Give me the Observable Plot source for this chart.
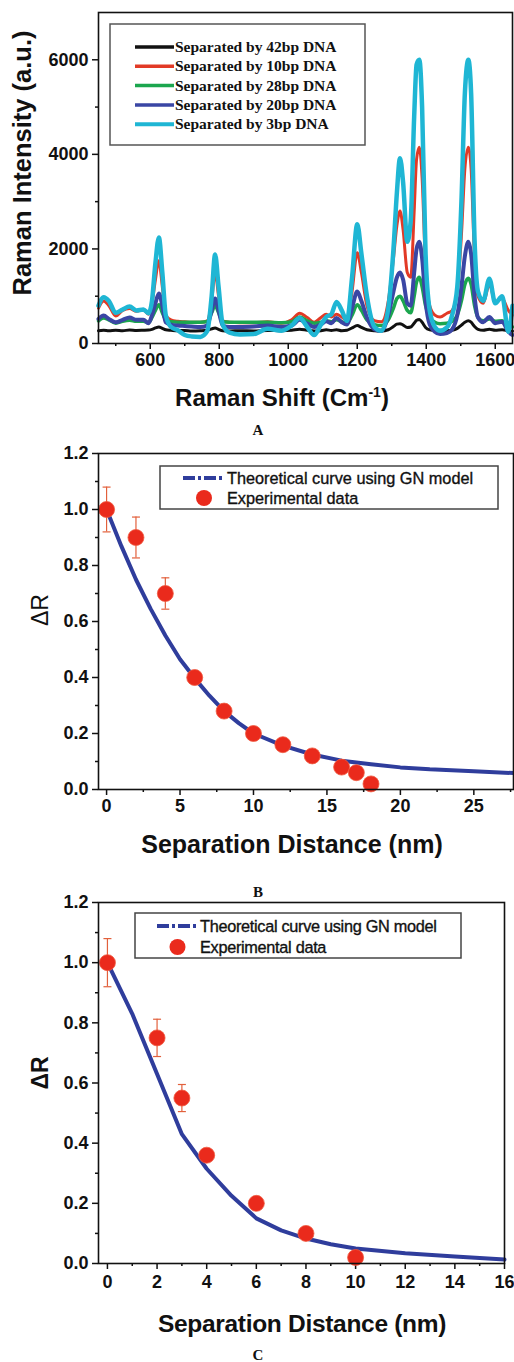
<!DOCTYPE html>
<html><head><meta charset="utf-8">
<script src="https://cdn.jsdelivr.net/npm/d3@7"></script>
<script src="https://cdn.jsdelivr.net/npm/@observablehq/plot@0.6"></script>
<style>
body{margin:0;background:#fff;}
#wrap{position:relative;width:514px;height:1362px;overflow:hidden;background:#fff;}
#wrap > svg{position:absolute;left:0;}
</style></head><body><div id="wrap"></div>
<script>
// ---------------- DATA: panel A (Raman spectra) ----------------
const wavenumbers = [450,465,480,500,520,540,560,580,595,605,615,625,635,645,660,680,700,720,745,765,778,788,798,810,830,860,900,940,980,1010,1033,1055,1075,1095,1110,1125,1140,1155,1170,1185,1200,1212,1228,1250,1270,1290,1305,1315,1324,1333,1345,1355,1365,1372,1380,1388,1398,1410,1425,1440,1460,1475,1490,1502,1512,1522,1530,1540,1550,1565,1583,1600,1620,1638,1650];
const sep42 = [270,280,270,280,270,285,275,280,285,300,330,350,320,290,280,270,275,265,270,280,310,330,300,270,265,270,265,275,270,280,300,280,265,270,290,275,290,270,280,330,380,340,290,270,265,290,360,410,420,390,340,350,430,490,510,450,340,290,275,280,270,280,320,390,450,480,450,360,300,280,300,280,290,270,260];
const sep10 = [750,900,800,580,700,740,680,720,620,850,1350,1750,1200,600,500,470,460,450,450,480,900,1500,1000,480,450,440,440,460,430,500,640,550,450,550,620,560,620,560,500,1100,1920,1500,800,480,460,900,1800,2500,2800,2400,1500,1400,2800,3900,4150,3500,1600,800,600,560,640,700,1100,2300,3700,4150,3700,1800,1000,850,1250,880,950,700,600];
const sep28 = [480,540,500,430,470,490,470,470,440,550,700,820,650,500,460,450,450,450,450,460,650,800,650,460,450,450,450,450,440,460,560,480,430,450,480,460,500,460,430,600,820,700,500,400,380,500,750,950,1000,900,700,650,1000,1300,1400,1200,800,550,450,420,430,470,600,900,1250,1380,1250,800,550,480,520,470,480,400,350];
const sep20 = [520,590,520,450,500,550,500,500,430,600,850,1060,800,450,400,380,370,360,350,380,700,950,700,380,350,350,360,380,350,380,500,420,350,400,470,430,540,450,400,750,1100,900,550,300,270,600,1100,1400,1500,1350,850,800,1500,2000,2150,1800,900,400,250,200,220,300,600,1200,1850,2150,1900,1000,550,450,560,430,460,250,180];
const sep3  = [800,980,900,650,720,780,700,720,640,900,1700,2240,1500,600,350,280,180,150,140,260,1000,1880,1200,400,230,190,200,310,270,380,540,350,180,400,560,620,880,700,480,1400,2520,1900,1000,350,270,750,2000,3200,3920,3400,2150,2600,4800,5900,6000,5000,1900,700,350,270,340,600,1200,3000,5300,6000,5300,2200,1100,900,1370,850,1000,250,800];
const seriesNames = ["Separated by 42bp DNA","Separated by 10bp DNA","Separated by 28bp DNA","Separated by 20bp DNA","Separated by 3bp DNA"];
const ticksA_x = [600,800,1000,1200,1400,1600];
const minorA_x = [500,700,900,1100,1300,1500];
const ticksA_y = [0,2000,4000,6000];
const minorA_y = [1000,3000,5000];

// ---------------- DATA: panel B ----------------
const distB = [0,2,4,6,8,10,12,14,16,17,18];
const expB  = [1.0,0.9,0.7,0.4,0.28,0.2,0.16,0.12,0.08,0.06,0.02];
const errB  = [0.08,0.073,0.056,0,0,0,0,0,0,0,0];
const theoDistB = [0,1,2,3,4,5,6,7,8,9,10,12,14,16,18,20,22,25,28];
const theoB     = [1.0,0.87,0.75,0.645,0.55,0.465,0.397,0.335,0.28,0.237,0.2,0.157,0.125,0.103,0.09,0.079,0.072,0.065,0.058];
const ticksB_x = [0,5,10,15,20,25];
const minorB_x = [2.5,7.5,12.5,17.5,22.5,27.5];

// ---------------- DATA: panel C ----------------
const distC = [0,2,3,4,6,8,10];
const expC  = [1.0,0.75,0.55,0.36,0.2,0.1,0.02];
const errC  = [0.08,0.062,0.045,0,0,0,0];
const theoDistC = [0,1,2,3,4,5,6,7,8,9,10,12,14,16];
const theoC     = [1.0,0.83,0.63,0.43,0.315,0.225,0.15,0.11,0.083,0.064,0.05,0.034,0.023,0.013];
const ticksC_x = [0,2,4,6,8,10,12,14,16];
const minorC_x = [1,3,5,7,9,11,13,15];

const ticksR_y = [0,0.2,0.4,0.6,0.8,1.0,1.2];
const minorR_y = [0.1,0.3,0.5,0.7,0.9,1.1];
const legendBC = ["Theoretical curve using GN model","Experimental data"];

// ---------------- STYLE ----------------
const seriesColors = ["#111111","#e23a26","#1ba64e","#3a46a4","#1fb6d4"];
const seriesWidths = [3,3,3.5,4,4.5];
const curveColor = "#2f3d9c";
const dotColor = "#ea2a1c";
const errColor = "#e2603c";
const sans = "'Liberation Sans', Arial, Helvetica, sans-serif";
const serif = "'Liberation Serif', 'Times New Roman', serif";

const wrap = document.getElementById("wrap");

function axes(xt, xm, yt, ym, yfmt, xpad) {
  return [
    Plot.axisX({ticks: xm, tickSize: 3, tickFormat: () => "", strokeWidth: 1.5, label: null}),
    Plot.axisX({ticks: xt, tickSize: 6, tickPadding: xpad, strokeWidth: 1.5, fontSize: 18, fontWeight: "bold", label: null, tickFormat: d => String(d)}),
    Plot.axisY({ticks: ym, tickSize: 3, tickFormat: () => "", strokeWidth: 1.5, label: null}),
    Plot.axisY({ticks: yt, tickSize: 6, tickPadding: 4, strokeWidth: 1.5, fontSize: 18, fontWeight: "bold", label: null, tickFormat: yfmt})
  ];
}
function place(svg, top) { svg.style.position = "absolute"; svg.style.top = top + "px"; svg.style.left = "0px"; wrap.appendChild(svg); }
const baseStyle = {fontFamily: sans, fontSize: "18px", fontWeight: "bold", color: "#111", background: "transparent", overflow: "visible"};

// ---------------- PANEL A ----------------
const spectra = [sep42, sep10, sep28, sep20, sep3];
const tableA = spectra.flatMap((vals, i) => wavenumbers.map((w, j) => ({w, v: vals[j], s: seriesNames[i]})));
const plotA = Plot.plot({
  width: 514, height: 380, marginTop: 12, marginBottom: 37, marginLeft: 98, marginRight: 2,
  x: {domain: [450, 1650]}, y: {domain: [0, 7000]}, style: baseStyle,
  marks: [
    ...axes(ticksA_x, minorA_x, ticksA_y, minorA_y, d => String(d), 4),
    ...seriesNames.map((name, i) => Plot.line(tableA.filter(d => d.s === name), {x: "w", y: "v", stroke: seriesColors[i], strokeWidth: seriesWidths[i], curve: "monotone-x", strokeLinejoin: "round"})),
    Plot.frame({stroke: "#111", strokeWidth: 1.6})
  ]
});
place(plotA, 0);

// ---------------- PANELS B & C ----------------
const capSymbol = {draw(ctx) { ctx.moveTo(-4, 0); ctx.lineTo(4, 0); }};
function ratioPanel(dist, exp, err, tdist, theo, xdom, xt, xm, opts) {
  const pts = dist.map((x, i) => ({x, y: exp[i], e: err[i]}));
  const errPts = pts.filter(d => d.e > 0);
  const curve = tdist.map((x, i) => ({x, y: theo[i]}));
  return Plot.plot({
    width: 514, height: opts.height, marginTop: opts.mt, marginBottom: 37, marginLeft: 98, marginRight: opts.mr,
    x: {domain: xdom}, y: {domain: [0, 1.2]}, style: baseStyle,
    marks: [
      ...axes(xt, xm, ticksR_y, minorR_y, d => d.toFixed(1), opts.xpad),
      Plot.line(curve, {x: "x", y: "y", stroke: curveColor, strokeWidth: 4}),
      Plot.ruleX(errPts, {x: "x", y1: d => d.y - d.e, y2: d => d.y + d.e, stroke: errColor, strokeWidth: 1.2}),
      Plot.dot(errPts, {x: "x", y: d => d.y + d.e, symbol: capSymbol, stroke: errColor, strokeWidth: 1.2, fill: "none"}),
      Plot.dot(errPts, {x: "x", y: d => d.y - d.e, symbol: capSymbol, stroke: errColor, strokeWidth: 1.2, fill: "none"}),
      Plot.dot(pts, {x: "x", y: "y", r: 8, fill: dotColor, stroke: "#f05a40", strokeWidth: 0.8}),
      Plot.frame({stroke: "#111", strokeWidth: 1.6})
    ]
  });
}
place(ratioPanel(distB, expB, errB, theoDistB, theoB, [-0.55, 27.7], ticksB_x, minorB_x, {height: 386, mt: 13, mr: 1, xpad: 4}), 440);
place(ratioPanel(distC, expC, errC, theoDistC, theoC, [-0.36, 16], ticksC_x, minorC_x, {height: 410, mt: 12, mr: 10, xpad: 6}), 890);

// ---------------- TEXT / LEGEND OVERLAY ----------------
const NS = "http://www.w3.org/2000/svg";
const ov = document.createElementNS(NS, "svg");
ov.setAttribute("width", 514); ov.setAttribute("height", 1362);
ov.style.position = "absolute"; ov.style.top = "0"; ov.style.left = "0";
wrap.appendChild(ov);
function el(tag, attrs, text) {
  const e = document.createElementNS(NS, tag);
  for (const k in attrs) e.setAttribute(k, attrs[k]);
  if (text != null) e.textContent = text;
  ov.appendChild(e); return e;
}
// Axis titles
el("text", {x: 31, y: 163, transform: "rotate(-90 31 163)", "text-anchor": "middle", "font-family": sans, "font-weight": "bold", "font-size": 25.5, fill: "#111"}, "Raman Intensity (a.u.)");
const tA = el("text", {x: 282, y: 406, "text-anchor": "middle", "font-family": sans, "font-weight": "bold", "font-size": 24, fill: "#111"});
tA.innerHTML = 'Raman Shift (Cm<tspan dy="-9" font-size="14">-1</tspan><tspan dy="9">)</tspan>';
el("text", {x: 258, y: 435, "text-anchor": "middle", "font-family": serif, "font-weight": "bold", "font-size": 15, fill: "#111"}, "A");

el("text", {x: 48, y: 610, transform: "rotate(-90 48 610)", "text-anchor": "middle", "font-family": sans, "font-size": 23, fill: "#111"}, "ΔR");
el("text", {x: 292, y: 853, "text-anchor": "middle", "font-family": sans, "font-weight": "bold", "font-size": 25, fill: "#111"}, "Separation Distance (nm)");
el("text", {x: 258, y: 897, "text-anchor": "middle", "font-family": serif, "font-weight": "bold", "font-size": 15, fill: "#111"}, "B");

el("text", {x: 48, y: 1073, transform: "rotate(-90 48 1073)", "text-anchor": "middle", "font-family": sans, "font-weight": "bold", "font-size": 23, fill: "#111"}, "ΔR");
el("text", {x: 302, y: 1332, "text-anchor": "middle", "font-family": sans, "font-weight": "bold", "font-size": 24.5, "letter-spacing": -0.3, fill: "#111"}, "Separation Distance (nm)");
el("text", {x: 258, y: 1360, "text-anchor": "middle", "font-family": serif, "font-weight": "bold", "font-size": 15, fill: "#111"}, "C");

// Legend A
el("rect", {x: 110, y: 24, width: 255, height: 121, fill: "#fff", stroke: "#555", "stroke-width": 1.5});
seriesNames.forEach((name, i) => {
  const y = 47 + i * 19.3;
  el("line", {x1: 135, x2: 174, y1: y, y2: y, stroke: seriesColors[i], "stroke-width": i === 4 ? 4 : 3.5});
  el("text", {x: 175, y: y + 5, "font-family": serif, "font-weight": "bold", "font-size": 15.5, fill: "#111"}, name);
});

// Legends B and C
function legendRC(x, y, w, h, r1, r2, lx1, lx2, tx, ls) {
  el("rect", {x, y, width: w, height: h, fill: "#fff", stroke: "#444", "stroke-width": 1.5});
  el("line", {x1: lx1, x2: lx2, y1: r1, y2: r1, stroke: curveColor, "stroke-width": 4, "stroke-dasharray": "12 3 3 3"});
  el("circle", {cx: (lx1 + lx2) / 2, cy: r2, r: 8, fill: dotColor});
  el("text", {x: tx, y: r1 + 6, "font-family": sans, "font-size": 16.3, "letter-spacing": ls, fill: "#111", stroke: "#111", "stroke-width": 0.35}, legendBC[0]);
  el("text", {x: tx, y: r2 + 6, "font-family": sans, "font-size": 16.3, "letter-spacing": ls, fill: "#111", stroke: "#111", "stroke-width": 0.35}, legendBC[1]);
}
legendRC(160, 466, 338, 43, 478, 498, 183, 225, 227, 0);
legendRC(135, 913, 326, 45, 926, 947, 157, 198, 200, -0.3);
</script></body></html>
